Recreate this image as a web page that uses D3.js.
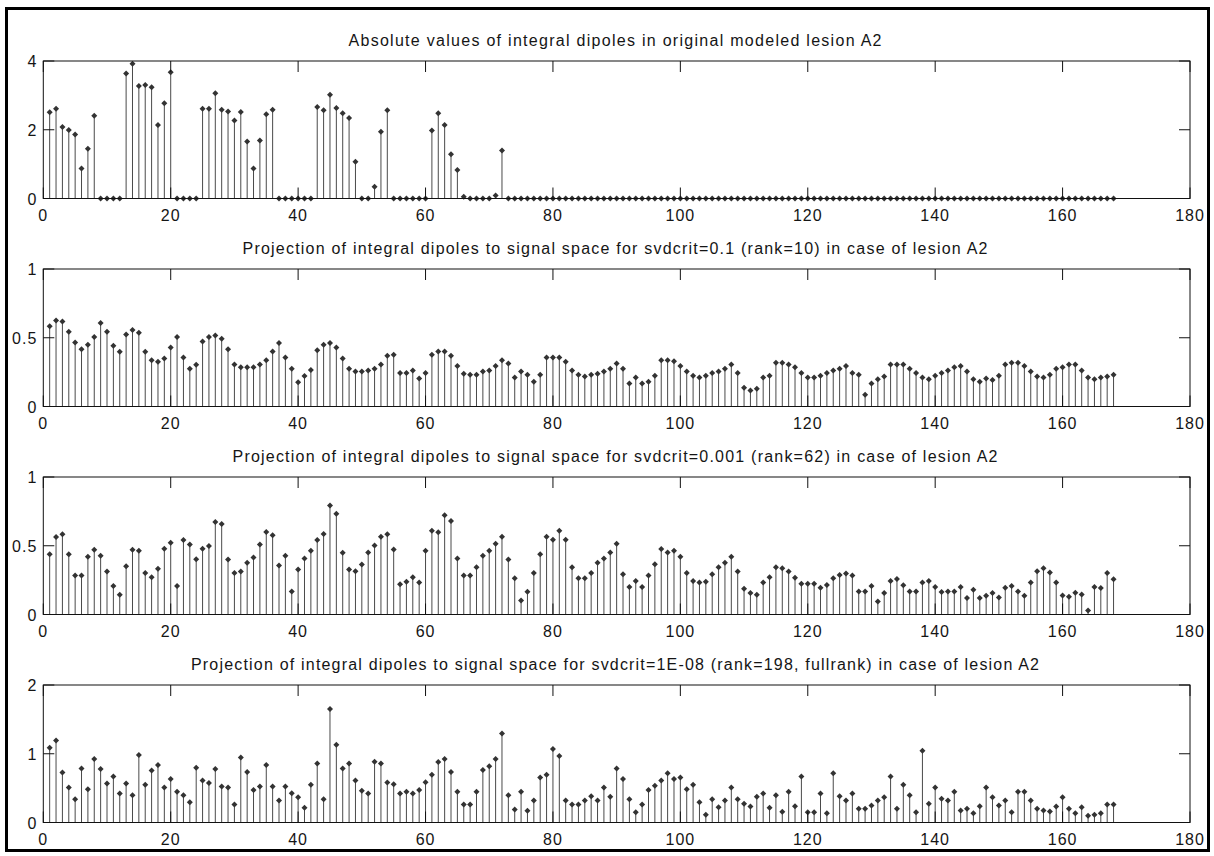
<!DOCTYPE html>
<html>
<head>
<meta charset="utf-8">
<script src="https://cdn.jsdelivr.net/npm/d3@7"></script>
<style>
body { margin: 0; background: #fff; }
svg text { font-family: "Liberation Sans", Arial, sans-serif; fill: #151515; }
</style>
</head>
<body>
<svg id="chart"></svg>
<script>
var width = 1214;
var height = 856;

// values, index 1..168
const lesionA2 = [2.51, 2.61, 2.08, 1.99, 1.86, 0.87, 1.45, 2.41, 0, 0, 0, 0,
    3.64, 3.92, 3.27, 3.30, 3.24, 2.14, 2.77, 3.67, 0, 0, 0, 0,
    2.61, 2.61, 3.06, 2.58, 2.53, 2.27, 2.52, 1.66, 0.87, 1.69, 2.45, 2.58,
    0, 0, 0, 0, 0, 0, 2.66, 2.57, 3.02, 2.63, 2.48, 2.34, 1.07, 0, 0, 0.34,
    1.94, 2.57, 0, 0, 0, 0, 0, 0, 1.98, 2.48, 2.14, 1.29, 0.83, 0.05,
    0, 0, 0, 0, 0.09, 1.40,
    0, 0, 0, 0, 0, 0, 0, 0, 0, 0, 0, 0, 0, 0, 0, 0, 0, 0, 0, 0, 0, 0, 0, 0,
    0, 0, 0, 0, 0, 0, 0, 0, 0, 0, 0, 0, 0, 0, 0, 0, 0, 0, 0, 0, 0, 0, 0, 0,
    0, 0, 0, 0, 0, 0, 0, 0, 0, 0, 0, 0, 0, 0, 0, 0, 0, 0, 0, 0, 0, 0, 0, 0,
    0, 0, 0, 0, 0, 0, 0, 0, 0, 0, 0, 0, 0, 0, 0, 0, 0, 0, 0, 0, 0, 0, 0, 0]

const projRank10 = [0.583, 0.626, 0.619, 0.544, 0.466, 0.417, 0.449, 0.505, 0.607, 0.544,
    0.442, 0.398, 0.524, 0.556, 0.536, 0.398, 0.337, 0.325, 0.350, 0.430,
    0.505, 0.357, 0.274, 0.303, 0.473, 0.505, 0.517, 0.493, 0.417, 0.306,
    0.286, 0.286, 0.286, 0.306, 0.337, 0.400, 0.461, 0.357, 0.274, 0.177,
    0.221, 0.265, 0.410, 0.449, 0.461, 0.430, 0.350, 0.274, 0.255, 0.255,
    0.262, 0.274, 0.306, 0.369, 0.376, 0.243, 0.243, 0.262, 0.204, 0.243,
    0.376, 0.400, 0.400, 0.369, 0.294, 0.238, 0.231, 0.231, 0.255, 0.262,
    0.294, 0.337, 0.313, 0.211, 0.255, 0.231, 0.180, 0.231, 0.357, 0.357,
    0.357, 0.325, 0.262, 0.231, 0.218, 0.231, 0.238, 0.255, 0.274, 0.313,
    0.274, 0.167, 0.211, 0.167, 0.180, 0.223, 0.337, 0.337, 0.330, 0.294,
    0.255, 0.223, 0.211, 0.223, 0.243, 0.255, 0.274, 0.306, 0.243, 0.136,
    0.117, 0.129, 0.211, 0.223, 0.318, 0.318, 0.306, 0.286, 0.243, 0.211,
    0.211, 0.223, 0.243, 0.262, 0.274, 0.294, 0.243, 0.231, 0.085, 0.167,
    0.199, 0.218, 0.306, 0.306, 0.306, 0.274, 0.243, 0.211, 0.199, 0.223,
    0.243, 0.262, 0.286, 0.294, 0.255, 0.199, 0.180, 0.204, 0.192, 0.223,
    0.306, 0.318, 0.318, 0.294, 0.255, 0.218, 0.211, 0.231, 0.274, 0.286,
    0.306, 0.306, 0.262, 0.211, 0.199, 0.211, 0.218, 0.231]

const projRank62 = [0.439, 0.563, 0.583, 0.439, 0.283, 0.283, 0.420, 0.471, 0.427, 0.312,
    0.207, 0.144, 0.351, 0.471, 0.463, 0.302, 0.271, 0.332, 0.478, 0.522,
    0.207, 0.541, 0.510, 0.402, 0.478, 0.498, 0.673, 0.659, 0.400, 0.302,
    0.312, 0.376, 0.415, 0.510, 0.600, 0.576, 0.356, 0.427, 0.168, 0.327,
    0.407, 0.463, 0.541, 0.585, 0.793, 0.732, 0.449, 0.327, 0.315, 0.363,
    0.451, 0.502, 0.566, 0.583, 0.473, 0.220, 0.239, 0.271, 0.232, 0.463,
    0.610, 0.598, 0.722, 0.680, 0.407, 0.283, 0.283, 0.344, 0.427, 0.463,
    0.515, 0.566, 0.400, 0.263, 0.102, 0.166, 0.302, 0.439, 0.566, 0.544,
    0.610, 0.544, 0.344, 0.263, 0.263, 0.302, 0.376, 0.407, 0.451, 0.515,
    0.293, 0.200, 0.244, 0.200, 0.283, 0.366, 0.476, 0.451, 0.463, 0.420,
    0.302, 0.244, 0.232, 0.239, 0.293, 0.344, 0.376, 0.420, 0.312, 0.188,
    0.156, 0.144, 0.232, 0.271, 0.344, 0.337, 0.312, 0.268, 0.224, 0.224,
    0.224, 0.195, 0.215, 0.263, 0.288, 0.298, 0.283, 0.168, 0.168, 0.207,
    0.095, 0.156, 0.244, 0.259, 0.212, 0.168, 0.168, 0.232, 0.244, 0.200,
    0.163, 0.168, 0.168, 0.200, 0.120, 0.180, 0.120, 0.137, 0.156, 0.124,
    0.195, 0.207, 0.168, 0.137, 0.232, 0.315, 0.337, 0.305, 0.232, 0.139,
    0.129, 0.159, 0.146, 0.029, 0.200, 0.193, 0.302, 0.256]

const projFullRank = [1.087, 1.194, 0.728, 0.510, 0.340, 0.786, 0.485, 0.922, 0.777, 0.568,
    0.670, 0.422, 0.568, 0.398, 0.981, 0.549, 0.757, 0.835, 0.510, 0.631,
    0.447, 0.398, 0.296, 0.796, 0.612, 0.573, 0.777, 0.524, 0.510, 0.262,
    0.947, 0.733, 0.471, 0.524, 0.835, 0.524, 0.320, 0.524, 0.427, 0.369,
    0.214, 0.549, 0.859, 0.340, 1.650, 1.131, 0.786, 0.859, 0.612, 0.461,
    0.422, 0.883, 0.859, 0.583, 0.555, 0.422, 0.447, 0.422, 0.471, 0.587,
    0.694, 0.879, 0.922, 0.733, 0.447, 0.262, 0.262, 0.447, 0.762, 0.820,
    0.922, 1.296, 0.398, 0.189, 0.447, 0.170, 0.320, 0.655, 0.694, 1.068,
    0.966, 0.320, 0.262, 0.262, 0.320, 0.383, 0.320, 0.510, 0.374, 0.786,
    0.631, 0.340, 0.150, 0.262, 0.471, 0.534, 0.612, 0.718, 0.631, 0.655,
    0.485, 0.549, 0.296, 0.112, 0.340, 0.223, 0.320, 0.510, 0.340, 0.272,
    0.233, 0.374, 0.422, 0.214, 0.398, 0.155, 0.447, 0.238, 0.670, 0.150,
    0.150, 0.422, 0.136, 0.718, 0.383, 0.320, 0.422, 0.199, 0.199, 0.248,
    0.320, 0.369, 0.670, 0.199, 0.549, 0.398, 0.150, 1.044, 0.272, 0.510,
    0.345, 0.320, 0.447, 0.175, 0.199, 0.136, 0.238, 0.510, 0.369, 0.248,
    0.320, 0.150, 0.447, 0.447, 0.320, 0.199, 0.175, 0.160, 0.233, 0.369,
    0.199, 0.136, 0.223, 0.097, 0.112, 0.136, 0.262, 0.262]

const titles = [
    'Absolute values of integral dipoles in original modeled lesion A2',
    'Projection of integral dipoles to signal space for svdcrit=0.1 (rank=10) in case of lesion A2',
    'Projection of integral dipoles to signal space for svdcrit=0.001 (rank=62) in case of lesion A2',
    'Projection of integral dipoles to signal space for svdcrit=1E-08 (rank=198, fullrank) in case of lesion A2'
]
const xTicks = [0, 20, 40, 60, 80, 100, 120, 140, 160, 180]
const yTicks = [[0, 2, 4], [0, 0.5, 1], [0, 0.5, 1], [0, 1, 2]]
const series = [lesionA2, projRank10, projRank62, projFullRank]

// layout
const left = 43.3, right = 1190
const firstTop = 61, pitch = 208, plotH = 137.5
const tickLen = 11
const titleWidths = [533, 745, 765, 848]

var svg = d3.select('#chart').attr('width', width).attr('height', height)

svg.append('rect')
    .attr('x', 6.5).attr('y', 8.5)
    .attr('width', 1202).attr('height', 842)
    .attr('fill', 'none').attr('stroke', '#000').attr('stroke-width', 3)

let x = d3.scaleLinear().domain([0, 180]).range([left, right])

series.forEach((values, k) => {
    let top = firstTop + k * pitch
    let bottom = top + plotH
    let ticks = yTicks[k]
    let y = d3.scaleLinear().domain([0, ticks[ticks.length - 1]]).range([bottom, top])

    let g = svg.append('g')

    // stems first, then frame on top
    let pts = values.map((v, i) => ({ i: i + 1, v: v }))

    g.selectAll('line.stem')
        .data(pts)
        .enter()
        .append('line')
        .attr('class', 'stem')
        .attr('x1', d => x(d.i)).attr('x2', d => x(d.i))
        .attr('y1', y(0)).attr('y2', d => y(d.v))
        .attr('stroke', '#4a4a4a').attr('stroke-width', 1)

    g.selectAll('path.mark')
        .data(pts)
        .enter()
        .append('path')
        .attr('class', 'mark')
        .attr('d', d => {
            let cx = x(d.i), cy = y(d.v)
            return 'M' + (cx - 3) + ',' + cy + 'L' + cx + ',' + (cy - 3) +
                'L' + (cx + 3) + ',' + cy + 'L' + cx + ',' + (cy + 3) + 'Z'
        })
        .attr('fill', '#333')

    // frame
    g.append('rect')
        .attr('x', left).attr('y', top)
        .attr('width', right - left).attr('height', plotH)
        .attr('fill', 'none').attr('stroke', '#111').attr('stroke-width', 1)

    // x ticks, inward at top and bottom
    xTicks.forEach(t => {
        g.append('line')
            .attr('x1', x(t)).attr('x2', x(t))
            .attr('y1', bottom).attr('y2', bottom - tickLen)
            .attr('stroke', '#111')
        g.append('line')
            .attr('x1', x(t)).attr('x2', x(t))
            .attr('y1', top).attr('y2', top + tickLen)
            .attr('stroke', '#111')
        g.append('text')
            .attr('x', x(t)).attr('y', bottom + 22.5)
            .attr('text-anchor', 'middle')
            .attr('font-size', 16)
            .attr('letter-spacing', 1)
            .text(t)
    })

    // y ticks, inward at left and right
    ticks.forEach(t => {
        g.append('line')
            .attr('x1', left).attr('x2', left + tickLen)
            .attr('y1', y(t)).attr('y2', y(t))
            .attr('stroke', '#111')
        g.append('line')
            .attr('x1', right).attr('x2', right - tickLen)
            .attr('y1', y(t)).attr('y2', y(t))
            .attr('stroke', '#111')
        g.append('text')
            .attr('x', left - 6).attr('y', y(t) + 6)
            .attr('text-anchor', 'end')
            .attr('font-size', 16)
            .attr('letter-spacing', 1)
            .text(t)
    })

    g.append('text')
        .attr('x', 615).attr('y', top - 15.5)
        .attr('text-anchor', 'middle')
        .attr('font-size', 16)
        .attr('textLength', titleWidths[k])
        .attr('lengthAdjust', 'spacing')
        .text(titles[k])
})
</script>
</body>
</html>
